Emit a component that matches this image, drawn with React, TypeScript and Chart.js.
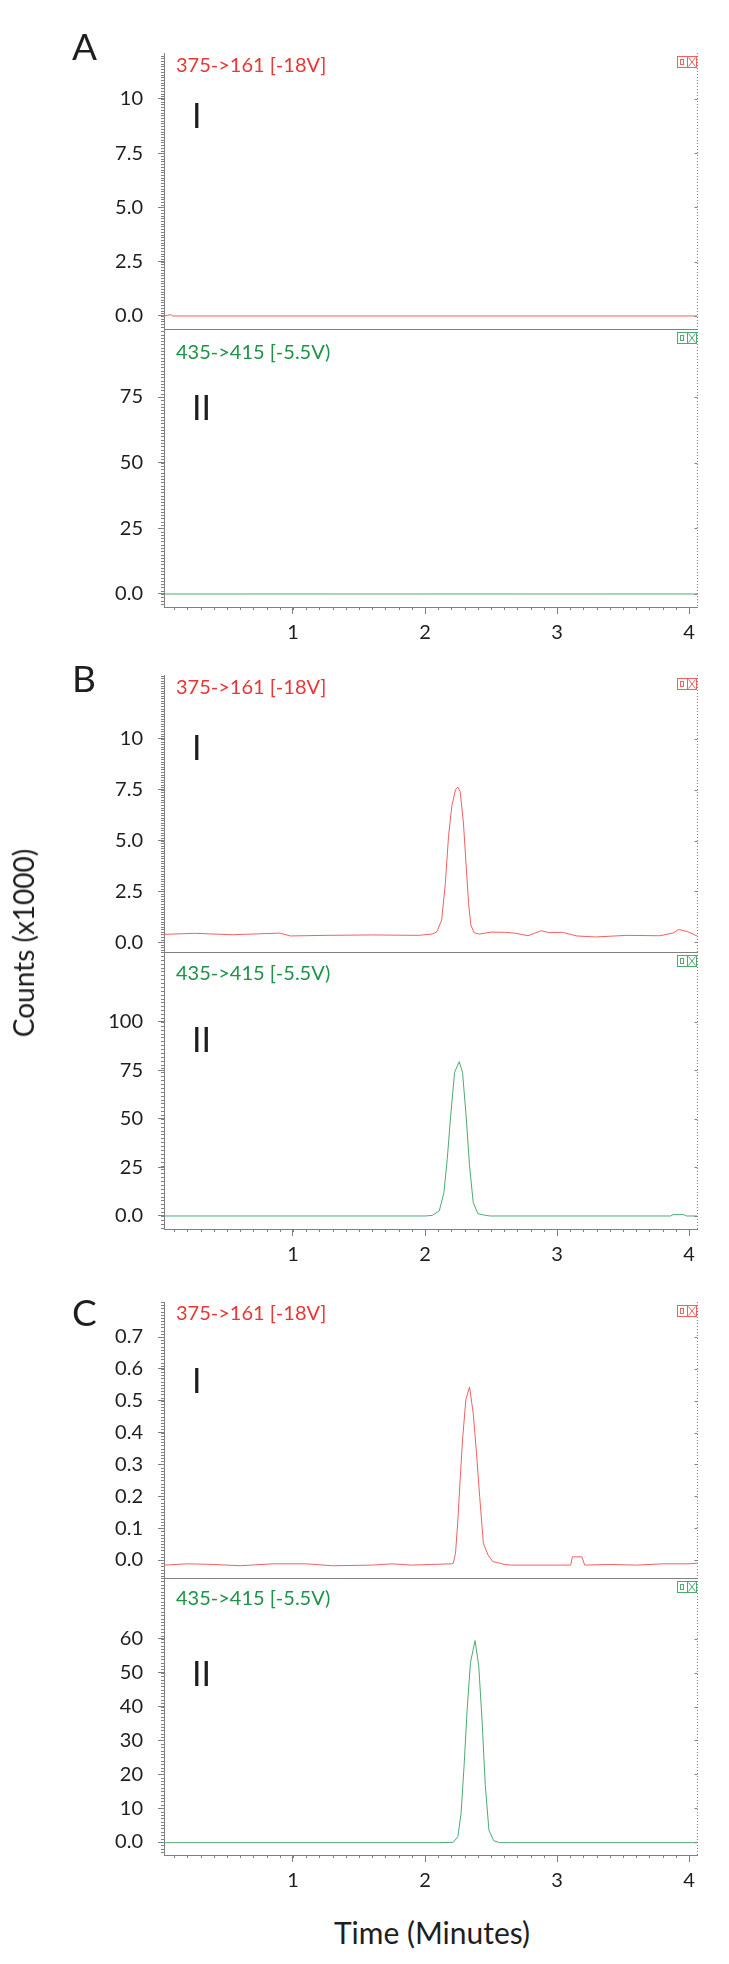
import React, { useEffect, useRef } from 'react';
import { Chart, registerables } from 'chart.js';

Chart.register(...registerables);

// ---------------- DATA ----------------
const xTickValues = [1, 2, 3, 4];
const X_MIN = 0.023;
const X_MAX = 4.06;

const redLabel = '375->161 [-18V]';
const greenLabel = '435->415 [-5.5V)';

// Panel A
const aRedTime = [0.023, 0.05, 0.07, 0.09, 4.06];
const aRedCounts = [0.0, 0.03, 0.06, 0.0, 0.0];
const aGreenTime = [0.023, 4.06];
const aGreenCounts = [0.0, 0.0];

// Panel B
const bRedTime = [0.023, 0.26, 0.54, 0.9, 0.98, 1.25, 1.6, 1.95, 2.06, 2.09, 2.126, 2.154, 2.178, 2.203, 2.231, 2.249, 2.266, 2.291, 2.312, 2.33, 2.347, 2.372, 2.41, 2.5, 2.6, 2.69, 2.78, 2.88, 2.94, 3.04, 3.15, 3.29, 3.53, 3.78, 3.88, 3.92, 3.99, 4.06];
const bRedCounts = [0.38, 0.43, 0.36, 0.44, 0.30, 0.33, 0.35, 0.33, 0.40, 0.51, 1.08, 2.9, 5.2, 6.7, 7.5, 7.63, 7.42, 5.86, 3.72, 1.9, 0.84, 0.46, 0.39, 0.49, 0.48, 0.43, 0.31, 0.56, 0.46, 0.48, 0.30, 0.25, 0.33, 0.31, 0.45, 0.62, 0.51, 0.30];
const bGreenTime = [0.023, 2.0, 2.055, 2.108, 2.143, 2.168, 2.196, 2.224, 2.259, 2.284, 2.312, 2.337, 2.365, 2.4, 2.46, 2.495, 3.86, 3.88, 3.96, 3.98, 4.06];
const bGreenCounts = [0, 0, 0.3, 2.6, 12, 29, 53, 74, 79.5, 74, 51, 26, 7, 1.2, 0.3, 0, 0, 0.7, 0.7, 0, 0];

// Panel C
const cRedTime = [0.023, 0.2, 0.4, 0.6, 0.85, 1.1, 1.3, 1.6, 1.75, 1.9, 2.05, 2.2, 2.214, 2.231, 2.249, 2.266, 2.284, 2.309, 2.337, 2.365, 2.39, 2.414, 2.442, 2.477, 2.513, 2.548, 2.6, 2.653, 2.9, 3.103, 3.117, 3.188, 3.209, 3.4, 3.6, 3.8, 4.0, 4.06];
const cRedCounts = [-0.016, -0.012, -0.014, -0.018, -0.012, -0.012, -0.018, -0.016, -0.012, -0.016, -0.014, -0.012, -0.010, 0.021, 0.126, 0.252, 0.377, 0.503, 0.543, 0.461, 0.335, 0.199, 0.052, 0.016, -0.005, -0.008, -0.014, -0.016, -0.016, -0.016, 0.010, 0.010, -0.016, -0.014, -0.016, -0.012, -0.012, -0.010];
const cGreenTime = [0.023, 2.1, 2.214, 2.249, 2.273, 2.295, 2.319, 2.344, 2.379, 2.407, 2.432, 2.456, 2.484, 2.52, 2.565, 4.06];
const cGreenCounts = [-0.2, -0.2, -0.1, 1.6, 8.5, 22, 39, 53, 59.5, 52, 36, 17, 3.5, 0.4, -0.2, -0.2];

// Y tick values and labels
const aTopTicks = [0, 2.5, 5, 7.5, 10];
const aTopTickLabels = ['0.0', '2.5', '5.0', '7.5', '10'];
const aBotTicks = [0, 25, 50, 75];
const aBotTickLabels = ['0.0', '25', '50', '75'];
const bTopTicks = [0, 2.5, 5, 7.5, 10];
const bTopTickLabels = ['0.0', '2.5', '5.0', '7.5', '10'];
const bBotTicks = [0, 25, 50, 75, 100];
const bBotTickLabels = ['0.0', '25', '50', '75', '100'];
const cTopTicks = [0, 0.1, 0.2, 0.3, 0.4, 0.5, 0.6, 0.7];
const cTopTickLabels = ['0.0', '0.1', '0.2', '0.3', '0.4', '0.5', '0.6', '0.7'];
const cBotTicks = [0, 10, 20, 30, 40, 50, 60];
const cBotTickLabels = ['0.0', '10', '20', '30', '40', '50', '60'];

// ---------------- STYLE / LAYOUT ----------------
const FONT = 'Lato, "Open Sans", sans-serif';
const AXIS = '#808080';
const TEXT = '#1e1e1e';
const RED_LINE = 'rgb(242,96,96)';
const RED_TEXT = 'rgb(236,52,52)';
const GREEN_LINE = 'rgb(76,172,112)';
const GREEN_TEXT = 'rgb(28,148,72)';
const PLOT_LEFT = 164;
const PLOT_RIGHT = 697;
const W = 729;
const PAD_TOP = 10;
const X_AXIS_H = 48;

type Sub = {
  times: number[]; values: number[]; color: string;
  top: number; bottom: number; yMin: number; yMax: number;
  ticks: number[]; labels: string[]; minor: number; showX: boolean;
};

const subs: Sub[] = [
  { times: aRedTime, values: aRedCounts, color: RED_LINE, top: 53, bottom: 329, yMin: -0.6, yMax: 12.12, ticks: aTopTicks, labels: aTopTickLabels, minor: 0.125, showX: false },
  { times: aGreenTime, values: aGreenCounts, color: GREEN_LINE, top: 329, bottom: 607, yMin: -4.95, yMax: 100.9, ticks: aBotTicks, labels: aBotTickLabels, minor: 1.25, showX: true },
  { times: bRedTime, values: bRedCounts, color: RED_LINE, top: 675, bottom: 952, yMin: -0.49, yMax: 13.15, ticks: bTopTicks, labels: bTopTickLabels, minor: 0.125, showX: false },
  { times: bGreenTime, values: bGreenCounts, color: GREEN_LINE, top: 952, bottom: 1229, yMin: -6.7, yMax: 136, ticks: bBotTicks, labels: bBotTickLabels, minor: 2, showX: true },
  { times: cRedTime, values: cRedCounts, color: RED_LINE, top: 1302, bottom: 1578, yMin: -0.0565, yMax: 0.81, ticks: cTopTicks, labels: cTopTickLabels, minor: 0.01, showX: false },
  { times: cGreenTime, values: cGreenCounts, color: GREEN_LINE, top: 1578, bottom: 1855, yMin: -3.84, yMax: 78, ticks: cBotTicks, labels: cBotTickLabels, minor: 1, showX: true },
];

function makeDecor(sub: Sub) {
  return {
    id: 'decor',
    afterDraw(chart: any) {
      const { ctx, chartArea, scales } = chart;
      const y = scales.y;
      const x = scales.x;
      ctx.save();
      ctx.strokeStyle = AXIS;
      ctx.lineWidth = 1;
      // minor ticks left axis
      ctx.beginPath();
      const n0 = Math.ceil(sub.yMin / sub.minor);
      const n1 = Math.floor(sub.yMax / sub.minor);
      for (let n = n0; n <= n1; n++) {
        const py = Math.round(y.getPixelForValue(n * sub.minor)) + 0.5;
        ctx.moveTo(chartArea.left - 3, py);
        ctx.lineTo(chartArea.left, py);
      }
      ctx.stroke();
      // right dotted axis
      ctx.beginPath();
      ctx.setLineDash([1, 2]);
      const rx = Math.round(chartArea.right) + 0.5;
      ctx.moveTo(rx, chartArea.top);
      ctx.lineTo(rx, chartArea.bottom);
      ctx.stroke();
      ctx.setLineDash([]);
      // right small ticks at majors
      ctx.beginPath();
      sub.ticks.forEach((v) => {
        const py = Math.round(y.getPixelForValue(v)) + 0.5;
        ctx.moveTo(rx - 3, py);
        ctx.lineTo(rx, py);
      });
      ctx.stroke();
      // minor x ticks
      if (sub.showX) {
        ctx.beginPath();
        for (let n = 1; n <= 40; n++) {
          const v = n / 10;
          if (v < X_MIN || v > X_MAX) continue;
          const px = Math.round(x.getPixelForValue(v)) + 0.5;
          ctx.moveTo(px, chartArea.bottom);
          ctx.lineTo(px, chartArea.bottom + 3);
        }
        ctx.stroke();
      }
      // icon
      const ix = Math.round(chartArea.right) - 19.5;
      const iy = Math.round(chartArea.top) + 3.5;
      ctx.strokeStyle = sub.color;
      ctx.strokeRect(ix, iy, 10, 11);
      ctx.strokeRect(ix + 10, iy, 9, 11);
      ctx.strokeRect(ix + 3, iy + 3, 3, 5);
      ctx.beginPath();
      ctx.moveTo(ix + 11, iy + 1);
      ctx.lineTo(ix + 18, iy + 10);
      ctx.moveTo(ix + 18, iy + 1);
      ctx.lineTo(ix + 11, iy + 10);
      ctx.stroke();
      ctx.restore();
    },
  };
}

function SubPlot({ sub }: { sub: Sub }) {
  const ref = useRef<HTMLCanvasElement | null>(null);
  const canvasTop = sub.top - PAD_TOP;
  const h = sub.bottom - sub.top + PAD_TOP + (sub.showX ? X_AXIS_H : 2);
  useEffect(() => {
    if (!ref.current) return;
    const chart = new Chart(ref.current, {
      type: 'line',
      data: {
        datasets: [{
          data: sub.times.map((t, i) => ({ x: t, y: sub.values[i] })),
          borderColor: sub.color,
          borderWidth: 1,
          pointRadius: 0,
          tension: 0,
          fill: false,
        }],
      },
      options: {
        responsive: false,
        maintainAspectRatio: false,
        animation: false,
        layout: { padding: { left: 0, right: W - PLOT_RIGHT, top: PAD_TOP, bottom: sub.showX ? 0 : 2 } },
        plugins: { legend: { display: false }, tooltip: { enabled: false }, title: { display: false } },
        scales: {
          x: {
            type: 'linear',
            min: X_MIN,
            max: X_MAX,
            afterBuildTicks: (s: any) => { s.ticks = xTickValues.map((v) => ({ value: v })); },
            afterFit: (s: any) => { s.height = sub.showX ? X_AXIS_H : 0; s.paddingLeft = 0; s.paddingRight = 0; },
            ticks: {
              display: sub.showX,
              color: TEXT,
              font: { family: FONT, size: 20 },
              padding: 7,
              maxRotation: 0,
              autoSkip: false,
              callback: (v: any) => String(v),
            },
            grid: { drawOnChartArea: false, drawTicks: sub.showX, tickLength: 7, color: AXIS },
            border: { display: true, color: AXIS, width: 1 },
          },
          y: {
            type: 'linear',
            min: sub.yMin,
            max: sub.yMax,
            afterBuildTicks: (s: any) => { s.ticks = sub.ticks.map((v) => ({ value: v })); },
            afterFit: (s: any) => { s.width = PLOT_LEFT; s.paddingTop = 0; s.paddingBottom = 0; },
            ticks: {
              color: TEXT,
              font: { family: FONT, size: 20 },
              padding: 15,
              autoSkip: false,
              callback: (v: any) => {
                const i = sub.ticks.findIndex((t) => Math.abs(t - v) < 1e-9);
                return i >= 0 ? sub.labels[i] : '';
              },
            },
            grid: { drawOnChartArea: false, drawTicks: true, tickLength: 6, color: AXIS },
            border: { display: true, color: AXIS, width: 1 },
          },
        },
      },
      plugins: [makeDecor(sub)],
    } as any);
    return () => chart.destroy();
  }, []);
  return (
    <canvas
      ref={ref}
      width={W}
      height={h}
      style={{ position: 'absolute', left: 0, top: canvasTop, width: W, height: h }}
    />
  );
}

function Txt({ text, x, cy, size, color, center }: { text: string; x: number; cy: number; size: number; color: string; center?: boolean }) {
  return (
    <div
      style={{
        position: 'absolute',
        left: x,
        top: cy - 0.529 * size,
        fontSize: size,
        lineHeight: 1,
        fontFamily: FONT,
        color,
        whiteSpace: 'nowrap',
        transform: center ? 'translateX(-50%)' : undefined,
      }}
    >
      {text}
    </div>
  );
}

export default function App() {
  const panelLetters = [
    { t: 'A', cy: 46.5 },
    { t: 'B', cy: 679 },
    { t: 'C', cy: 1312.5 },
  ];
  const redY = [65, 687, 1313];
  const greenY = [352, 973, 1598];
  const iY = [115.5, 747.5, 1380.5];
  const iiY = [408, 1040, 1673.5];
  return (
    <div style={{ position: 'absolute', left: 0, top: 0, width: W, height: 1964, background: '#fff', overflow: 'hidden' }}>
      {subs.map((s, i) => <SubPlot key={i} sub={s} />)}
      {panelLetters.map((p) => <Txt key={p.t} text={p.t} x={72} cy={p.cy} size={37} color={TEXT} />)}
      {redY.map((cy, i) => <Txt key={'r' + i} text={redLabel} x={176} cy={cy} size={20} color={RED_TEXT} />)}
      {greenY.map((cy, i) => <Txt key={'g' + i} text={greenLabel} x={176} cy={cy} size={20} color={GREEN_TEXT} />)}
      {iY.map((cy, i) => <Txt key={'i' + i} text="I" x={192} cy={cy} size={34} color={TEXT} />)}
      {iiY.map((cy, i) => <Txt key={'ii' + i} text="II" x={192} cy={cy} size={34} color={TEXT} />)}
      <div
        style={{
          position: 'absolute', left: 23, top: 943, fontSize: 28, lineHeight: 1, fontFamily: FONT,
          color: TEXT, whiteSpace: 'nowrap', transform: 'translate(-50%, -50%) rotate(-90deg)',
        }}
      >
        Counts (x1000)
      </div>
      <Txt text="Time (Minutes)" x={432} cy={1933} size={30} color={TEXT} center />
    </div>
  );
}
